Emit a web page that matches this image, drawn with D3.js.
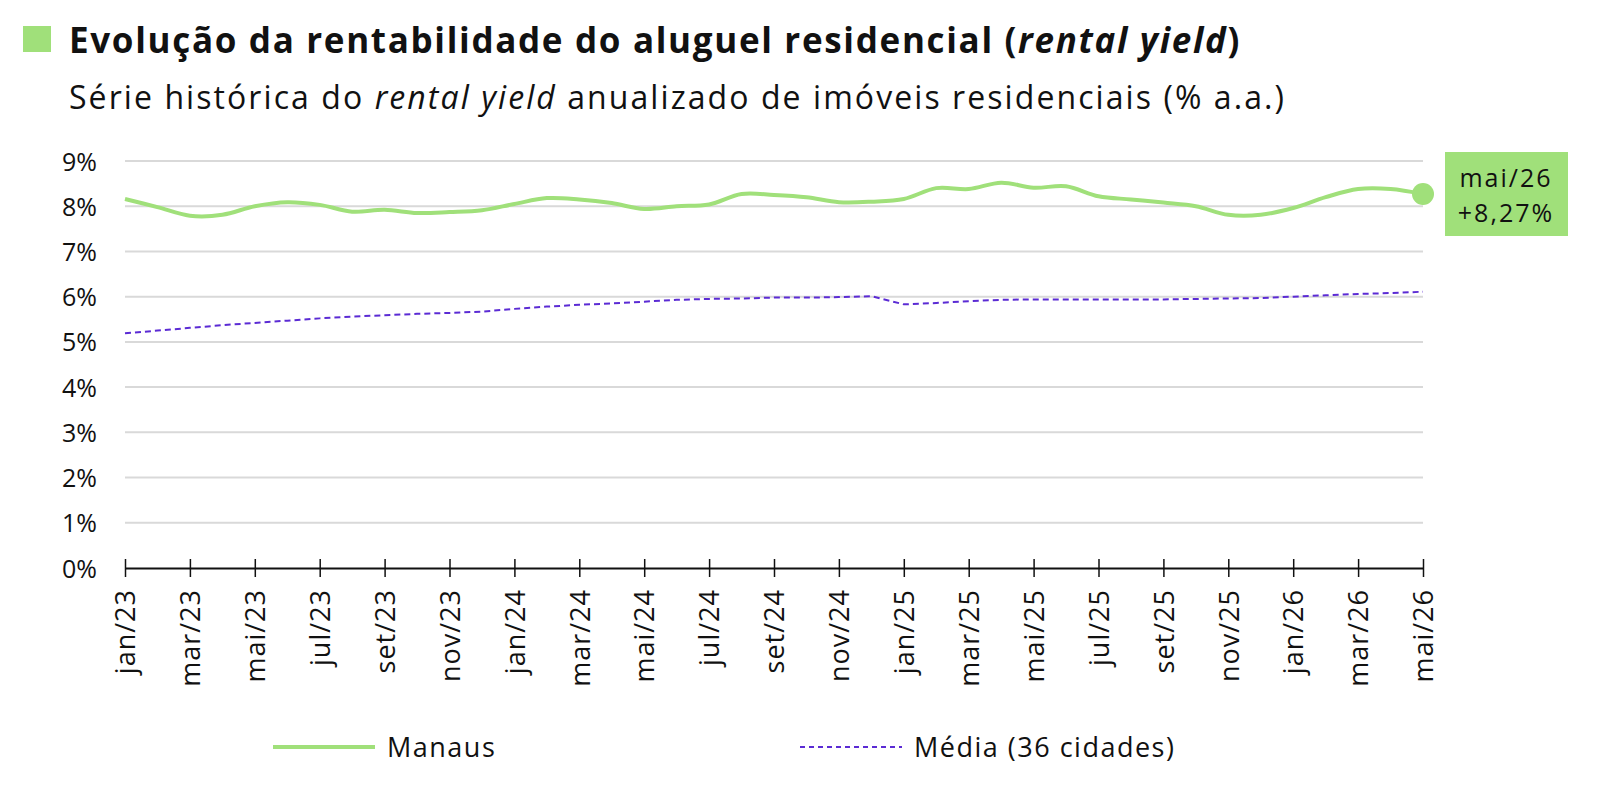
<!DOCTYPE html>
<html>
<head>
<meta charset="utf-8">
<script src="https://cdn.jsdelivr.net/npm/d3@7"></script>
<style>
  body { margin: 0; background: #fff; }
  text { font-family: "Open Sans", "Noto Sans", sans-serif; fill: #111; }
</style>
</head>
<body>
<div id="chart"></div>
<script>
var months = ["jan/23","fev/23","mar/23","abr/23","mai/23","jun/23","jul/23","ago/23","set/23","out/23","nov/23","dez/23",
              "jan/24","fev/24","mar/24","abr/24","mai/24","jun/24","jul/24","ago/24","set/24","out/24","nov/24","dez/24",
              "jan/25","fev/25","mar/25","abr/25","mai/25","jun/25","jul/25","ago/25","set/25","out/25","nov/25","dez/25",
              "jan/26","fev/26","mar/26","abr/26","mai/26"];
var manaus = [8.16,7.98,7.79,7.81,8.00,8.09,8.03,7.88,7.92,7.85,7.87,7.91,
              8.05,8.18,8.15,8.07,7.94,8.00,8.04,8.27,8.25,8.20,8.09,8.10,
              8.16,8.40,8.38,8.52,8.41,8.44,8.22,8.15,8.08,8.00,7.81,7.81,
              7.96,8.20,8.38,8.38,8.27];
var media = [5.19,5.25,5.31,5.37,5.42,5.47,5.52,5.56,5.59,5.62,5.64,5.67,
             5.73,5.78,5.82,5.85,5.89,5.93,5.95,5.96,5.98,5.98,5.99,6.01,
             5.83,5.86,5.90,5.93,5.94,5.94,5.94,5.94,5.94,5.95,5.96,5.97,
             6.00,6.03,6.06,6.08,6.11];
var yTicks = [0,1,2,3,4,5,6,7,8,9];
var seriesNames = ["Manaus", "Média (36 cidades)"];
var lastLabel = ["mai/26", "+8,27%"];

var width = 1598, height = 798;
var green = "#a0e07a", purple = "#5b2bd4";

var svg = d3.select("#chart").append("svg")
            .attr("width", width).attr("height", height);

//spread letters so a text line ends where the original one does
function fitWidth(sel, target){
  var node = sel.node();
  var w = node.getComputedTextLength();
  var n = node.textContent.length;
  sel.style("letter-spacing", ((target - w) / n) + "px");
}

// header
svg.append("rect").attr("x", 23).attr("y", 26).attr("width", 28).attr("height", 26).attr("fill", green);
var title = svg.append("text").attr("x", 69).attr("y", 53)
               .style("font-size", "35px").style("font-weight", "700");
title.append("tspan").text("Evolução da rentabilidade do aluguel residencial (");
title.append("tspan").style("font-style", "italic").text("rental yield");
title.append("tspan").text(")");
fitWidth(title, 1172);

var sub = svg.append("text").attr("x", 69).attr("y", 109).style("font-size", "32px");
sub.append("tspan").text("Série histórica do ");
sub.append("tspan").style("font-style", "italic").text("rental yield");
sub.append("tspan").text(" anualizado de imóveis residenciais (% a.a.)");
fitWidth(sub, 1217);

// scales
var x = d3.scalePoint().domain(months).range([125, 1423]);
var y = d3.scaleLinear().domain([0, 9]).range([568, 161]);

// gridlines
svg.append("g").selectAll("line").data(yTicks.slice(1)).enter()
   .append("line")
   .attr("x1", 125).attr("x2", 1423)
   .attr("y1", function(d){ return y(d); }).attr("y2", function(d){ return y(d); })
   .attr("stroke", "#d9d9d9").attr("stroke-width", 2);

// y axis labels
var yAxis = svg.append("g").attr("transform", "translate(97,0)")
   .call(d3.axisLeft(y).tickValues(yTicks).tickSize(0).tickFormat(function(d){ return d + "%"; }));
yAxis.select(".domain").remove();
yAxis.selectAll("text").style("font-size", "25px").attr("x", 0).attr("dy", "0.36em");

// x axis
var xAxis = svg.append("g").attr("transform", "translate(0," + y(0) + ")")
   .call(d3.axisBottom(x)
           .tickValues(months.filter(function(d, i){ return i % 2 == 0; }))
           .tickSize(9).tickSizeOuter(0));
xAxis.select(".domain").attr("stroke", "#111").attr("stroke-width", 2);
xAxis.selectAll(".tick line").attr("y1", -9).attr("stroke", "#111").attr("stroke-width", 1.5);
xAxis.selectAll(".tick text")
     .style("font-size", "27px").style("letter-spacing", "1px")
     .attr("transform", "rotate(-90)")
     .attr("x", -21).attr("y", 0).attr("dy", "0.36em")
     .attr("text-anchor", "end");

// lines
var lineSmooth = d3.line()
   .x(function(d, i){ return x(months[i]); })
   .y(function(d){ return y(d); })
   .curve(d3.curveCatmullRom.alpha(0.5));
var lineFlat = d3.line()
   .x(function(d, i){ return x(months[i]); })
   .y(function(d){ return y(d); });

svg.append("path").datum(media)
   .attr("d", lineFlat).attr("fill", "none")
   .attr("stroke", purple).attr("stroke-width", 2).attr("stroke-dasharray", "6,4");
svg.append("path").datum(manaus)
   .attr("d", lineSmooth).attr("fill", "none")
   .attr("stroke", green).attr("stroke-width", 4);

// last point + label
var n = manaus.length - 1;
svg.append("circle").attr("cx", x(months[n])).attr("cy", y(manaus[n])).attr("r", 11).attr("fill", green);
svg.append("rect").attr("x", 1445).attr("y", 152).attr("width", 123).attr("height", 84).attr("fill", green);
svg.selectAll(".lastlbl").data(lastLabel).enter()
   .append("text").attr("class", "lastlbl")
   .attr("x", 1506).attr("y", function(d, i){ return 187 + i * 35; })
   .attr("text-anchor", "middle").style("font-size", "25px").style("letter-spacing", "2px")
   .text(function(d){ return d; });

// legend
var legX = [273, 800];
var leg = svg.selectAll(".leg").data(seriesNames).enter()
   .append("g").attr("class", "leg")
   .attr("transform", function(d, i){ return "translate(" + legX[i] + ",747)"; });
leg.append("line").attr("x1", 0).attr("x2", 102)
   .attr("stroke", function(d, i){ return i == 0 ? green : purple; })
   .attr("stroke-width", function(d, i){ return i == 0 ? 4 : 2; })
   .attr("stroke-dasharray", function(d, i){ return i == 0 ? null : "5,4"; });
leg.append("text").attr("x", 114).attr("dy", "0.36em")
   .style("font-size", "27px").style("letter-spacing", "1.5px")
   .text(function(d){ return d; });
</script>
</body>
</html>
